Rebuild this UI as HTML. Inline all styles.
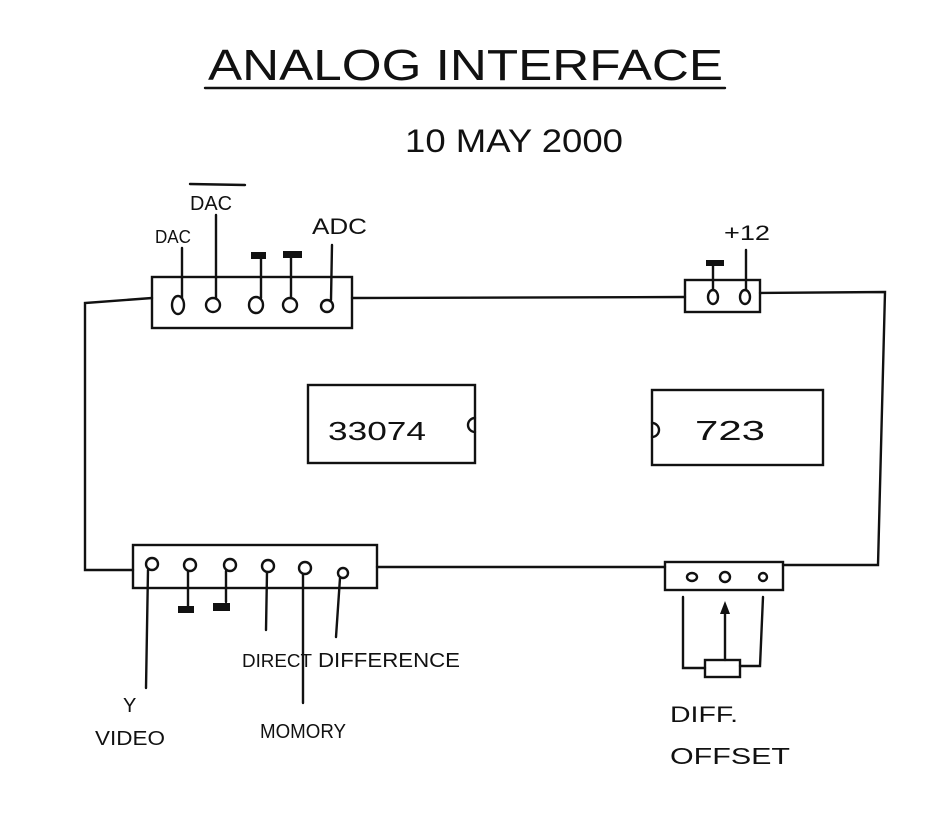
<!DOCTYPE html>
<html><head><meta charset="utf-8"><style>
html,body{margin:0;padding:0;background:#fff}
svg{display:block}
text{font-family:"Liberation Sans",sans-serif;fill:#111}
</style></head><body>
<svg width="943" height="819" viewBox="0 0 943 819" xmlns="http://www.w3.org/2000/svg">
<g stroke="#111" stroke-width="2.4" fill="none" stroke-linecap="round">
<!-- title -->
<line x1="205" y1="88" x2="725" y2="88"/>
<!-- main loop -->
<polyline points="152,298 85,303 85,570 133,570"/>
<line x1="352" y1="298" x2="685" y2="297"/>
<polyline points="760,293 885,292 878,565 783,565"/>
<line x1="377" y1="567" x2="665" y2="567"/>
<!-- top-left box -->
<rect x="152" y="277" width="200" height="51"/>
<ellipse cx="178" cy="305" rx="6" ry="9"/>
<circle cx="213" cy="305" r="7"/>
<ellipse cx="256" cy="305" rx="7" ry="8"/>
<circle cx="290" cy="305" r="7"/>
<circle cx="327" cy="306" r="6"/>
<line x1="182" y1="248" x2="182" y2="298"/>
<line x1="216" y1="215" x2="216" y2="298"/>
<line x1="261" y1="258" x2="261" y2="298"/>
<line x1="291" y1="258" x2="291" y2="298"/>
<line x1="332" y1="245" x2="331" y2="300"/>
<line x1="190" y1="184" x2="245" y2="185"/>
<!-- top-right box -->
<rect x="685" y="280" width="75" height="32"/>
<ellipse cx="713" cy="297" rx="5" ry="7"/>
<ellipse cx="745" cy="297" rx="5" ry="7"/>
<line x1="713" y1="264" x2="713" y2="290"/>
<line x1="746" y1="250" x2="746" y2="290"/>
<!-- chips -->
<rect x="308" y="385" width="167" height="78"/>
<path d="M475,418 A7,7 0 0,0 475,432"/>
<rect x="652" y="390" width="171" height="75"/>
<path d="M652,423 A7,7 0 0,1 652,437"/>
<!-- bottom-left box -->
<rect x="133" y="545" width="244" height="43"/>
<circle cx="152" cy="564" r="6"/>
<circle cx="190" cy="565" r="6"/>
<circle cx="230" cy="565" r="6"/>
<circle cx="268" cy="566" r="6"/>
<circle cx="305" cy="568" r="6"/>
<circle cx="343" cy="573" r="5"/>
<line x1="148" y1="570" x2="146" y2="688"/>
<line x1="188" y1="571" x2="188" y2="606"/>
<line x1="226" y1="571" x2="226" y2="602"/>
<line x1="267" y1="572" x2="266" y2="630"/>
<line x1="303" y1="574" x2="303" y2="703"/>
<line x1="340" y1="578" x2="336" y2="637"/>
<!-- bottom-right box -->
<rect x="665" y="562" width="118" height="28"/>
<ellipse cx="692" cy="577" rx="5" ry="4"/>
<ellipse cx="725" cy="577" rx="5" ry="5"/>
<circle cx="763" cy="577" r="4"/>
<polyline points="683,597 683,668 705,668"/>
<polyline points="740,666 760,666 763,597"/>
<rect x="705" y="660" width="35" height="17"/>
<line x1="725" y1="660" x2="725" y2="612"/>
</g>
<g fill="#111">
<rect x="251" y="252" width="15" height="7"/>
<rect x="283" y="251" width="19" height="7"/>
<rect x="706" y="260" width="18" height="6"/>
<rect x="178" y="606" width="16" height="7"/>
<rect x="213" y="603" width="17" height="8"/>
<polygon points="725,601 720,614 730,614"/>
</g>
<g font-size="22">
<text x="208" y="80" font-size="44" textLength="515" lengthAdjust="spacingAndGlyphs">ANALOG  INTERFACE</text>
<text x="405" y="152" font-size="32" textLength="218" lengthAdjust="spacingAndGlyphs">10 MAY 2000</text>
<text x="155" y="243" textLength="36" lengthAdjust="spacingAndGlyphs" font-size="18">DAC</text>
<text x="190" y="210" textLength="42" lengthAdjust="spacingAndGlyphs" font-size="20">DAC</text>
<text x="312" y="234" textLength="55" lengthAdjust="spacingAndGlyphs" font-size="22">ADC</text>
<text x="724" y="240" textLength="46" lengthAdjust="spacingAndGlyphs" font-size="21">+12</text>
<text x="328" y="440" textLength="98" lengthAdjust="spacingAndGlyphs" font-size="26">33074</text>
<text x="695" y="440" textLength="70" lengthAdjust="spacingAndGlyphs" font-size="28">723</text>
<text x="242" y="667" textLength="70" lengthAdjust="spacingAndGlyphs" font-size="18">DIRECT</text>
<text x="318" y="667" textLength="142" lengthAdjust="spacingAndGlyphs" font-size="20">DIFFERENCE</text>
<text x="123" y="712" font-size="20">Y</text>
<text x="95" y="745" textLength="70" lengthAdjust="spacingAndGlyphs" font-size="20">VIDEO</text>
<text x="260" y="738" textLength="86" lengthAdjust="spacingAndGlyphs" font-size="20">MOMORY</text>
<text x="670" y="722" textLength="68" lengthAdjust="spacingAndGlyphs" font-size="22">DIFF.</text>
<text x="670" y="764" textLength="120" lengthAdjust="spacingAndGlyphs" font-size="23">OFFSET</text>
</g>
</svg>
</body></html>
